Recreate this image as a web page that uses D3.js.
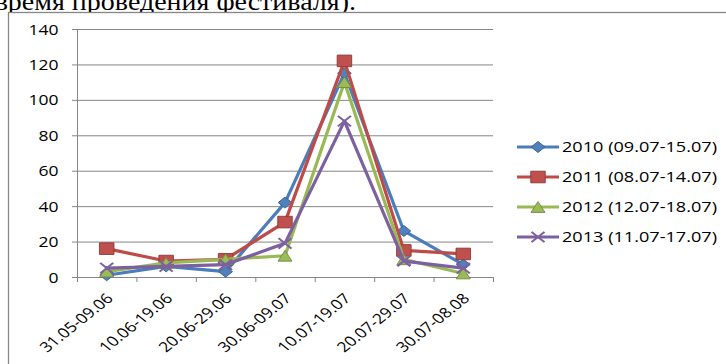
<!DOCTYPE html>
<html><head><meta charset="utf-8">
<script src="https://cdn.jsdelivr.net/npm/d3@7"></script>
<style>html,body{margin:0;padding:0;background:#fff;overflow:hidden}</style>
</head><body><svg id="c" width="726" height="364"></svg>
<script>
const categories = ["31.05-09.06","10.06-19.06","20.06-29.06","30.06-09.07","10.07-19.07","20.07-29.07","30.07-08.08"];
const yTicks = [0,20,40,60,80,100,120,140];
const seriesNames = ["2010 (09.07-15.07)","2011 (08.07-14.07)","2012 (12.07-18.07)","2013 (11.07-17.07)"];
const values2010 = [1,6,3,42,115,26,7];
const values2011 = [16,9,10,31,122,15,13];
const values2012 = [3,8,10,12,110,10,2];
const values2013 = [5,6,7,19,88,9,5];
const seriesColors = ["#4A7EBB","#BE4B48","#98B954","#7D60A0"];
const markerFill = ["#4F81BD","#C0504D","#9BBB59","none"];
const markerStroke = ["#385D8A","#8C3836","#71893F","#7D60A0"];
const markerKinds = ["diamond","square","triangle","x"];
const headerText = "время проведения фестиваля).";

const SX = 1.25; // horizontal stretch of the original picture
const FONT = "'Open Sans', 'DejaVu Sans', sans-serif";
const svg = d3.select("#c");

// clipped paragraph text above the chart (cut at the top edge as in the source)
svg.append("text")
  .attr("transform", `translate(356,9.5) scale(1.12,1)`)
  .attr("text-anchor", "end")
  .attr("font-family", "'Liberation Serif','Times New Roman',serif")
  .attr("font-size", 25)
  .attr("fill", "#000")
  .text(headerText);

// chart frame
svg.append("rect").attr("x", 8.5).attr("y", 12.5).attr("width", 800).attr("height", 400)
  .attr("fill", "#fff").attr("stroke", "#868686").attr("stroke-width", 1.3);

const pLeft = 77, pRight = 493, pTop = 29, pBottom = 277;
const x = d3.scaleBand().domain(categories).range([pLeft, pRight]).padding(0);
const xc = c => x(c) + x.bandwidth() / 2;
const y = d3.scaleLinear().domain([0, 140]).range([pBottom, pTop]);
const xb = d3.scaleLinear().domain([0, categories.length]).range([pLeft, pRight]);

// gridlines
svg.append("g").attr("transform", `translate(${pRight},0)`)
  .call(d3.axisLeft(y).tickValues(yTicks).tickSize(pRight - pLeft + 5).tickFormat(""))
  .call(g => g.select(".domain").remove())
  .call(g => g.selectAll("line").attr("stroke", "#868686").attr("stroke-width", 1));

// y axis
const ya = svg.append("g").attr("transform", `translate(${pLeft},0)`)
  .call(d3.axisLeft(y).tickValues(yTicks).tickSizeInner(0).tickSizeOuter(0));
ya.select(".domain").attr("stroke", "#868686");
ya.selectAll("text")
  .attr("x", 0).attr("dy", "0.36em")
  .attr("transform", `translate(-18.5,0) scale(${SX},1)`)
  .attr("font-family", FONT).attr("font-size", 14).attr("fill", "#000");

// x axis with boundary ticks
const xa = svg.append("g").attr("transform", `translate(0,${pBottom})`)
  .call(d3.axisBottom(xb).tickValues(d3.range(categories.length + 1)).tickSizeInner(5).tickSizeOuter(0).tickFormat(""));
xa.select(".domain").attr("stroke", "#868686");
xa.selectAll("line").attr("stroke", "#868686");

// x labels
svg.append("g").selectAll("text").data(categories).join("text")
  .attr("transform", d => `translate(${xc(d) + 3},${pBottom + 19}) scale(${SX},1) rotate(-45)`)
  .attr("text-anchor", "end").attr("dy", "0.35em")
  .attr("font-family", FONT).attr("font-size", 14).attr("fill", "#000")
  .text(d => d);

// marker shapes
function markerPath(kind) {
  const p = d3.path();
  if (kind === "diamond") { const h = 5.5; p.moveTo(0,-h); p.lineTo(h,0); p.lineTo(0,h); p.lineTo(-h,0); p.closePath(); }
  else if (kind === "square") { const h = 5.8; p.rect(-h,-h,2*h,2*h); }
  else if (kind === "triangle") { const w = 5.6, h = 5.4; p.moveTo(0,-h); p.lineTo(w,h); p.lineTo(-w,h); p.closePath(); }
  else { const h = 5.2; p.moveTo(-h,-h); p.lineTo(h,h); p.moveTo(h,-h); p.lineTo(-h,h); }
  return p.toString();
}
function drawMarker(g, kind, i, cx, cy) {
  g.append("path").attr("d", markerPath(kind))
    .attr("transform", `translate(${cx},${cy}) scale(${SX},1)`)
    .attr("fill", markerFill[i])
    .attr("stroke", markerStroke[i])
    .attr("stroke-width", kind === "x" ? 1.8 : 0.8);
}

const allSeries = [values2010, values2011, values2012, values2013];
const line = d3.line().x((d, i) => xc(categories[i])).y(d => y(d));
allSeries.forEach((vals, i) => {
  const g = svg.append("g");
  g.append("path").datum(vals).attr("d", line)
    .attr("fill", "none").attr("stroke", seriesColors[i]).attr("stroke-width", 3.2)
    .attr("stroke-linejoin", "round").attr("stroke-linecap", "round");
  vals.forEach((v, j) => drawMarker(g, markerKinds[i], i, xc(categories[j]), y(v)));
});

// legend
const ly = d3.scalePoint().domain(seriesNames).range([147, 237]);
seriesNames.forEach((name, i) => {
  const g = svg.append("g");
  const yy = ly(name);
  g.append("line").attr("x1", 517).attr("x2", 559).attr("y1", yy).attr("y2", yy)
    .attr("stroke", seriesColors[i]).attr("stroke-width", 3.2);
  drawMarker(g, markerKinds[i], i, 538, yy);
  g.append("text").attr("transform", `translate(562,${yy}) scale(${SX},1)`)
    .attr("dy", "0.36em").attr("font-family", FONT).attr("font-size", 14.5).attr("fill", "#000")
    .text(name);
});
</script></body></html>
